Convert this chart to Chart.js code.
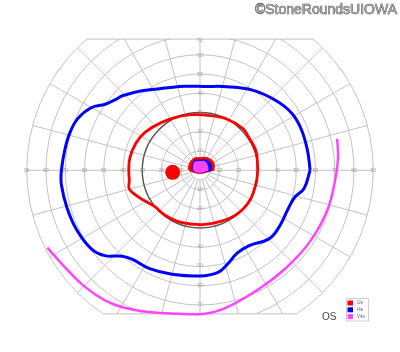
<!DOCTYPE html>
<html>
<head>
<meta charset="utf-8">
<script src="https://cdn.jsdelivr.net/npm/chart.js@4/dist/chart.umd.min.js"></script>
<style>
  body { margin: 0; background: #fff; }
  #wrap { width: 400px; height: 352px; position: relative; }
</style>
</head>
<body>
<div id="wrap"><canvas id="fieldChart" width="400" height="352"></canvas></div>
<script>
// isopters, polar: angle in degrees (0 = right, 90 = up), eccentricity in degrees
const blueAngles = [0, 10, 22, 32, 43, 57, 72, 87, 100, 111, 126, 136, 140, 145, 150, 157, 164, 171, 180, 186, 196, 206, 216, 222, 228, 233, 243, 255, 270, 280, 286, 294, 303, 315, 324, 336, 344, 350];
const blueEcc = [57.2, 56.8, 56.8, 56.2, 53.6, 49.9, 45.9, 43.8, 44.5, 46.1, 51.3, 56, 57.4, 60.1, 65.3, 69, 70.4, 71, 72, 72.4, 71.8, 71.2, 69.8, 66.6, 60.4, 58.3, 57.7, 56.2, 55.2, 54.1, 51.2, 47.4, 46.9, 50.7, 50.7, 50, 51.2, 54.9];

const redAngles = [0, 19, 34, 44, 62, 82, 95, 109, 129, 145, 157, 170, 180, 188, 195, 204, 219, 232, 250, 273, 292, 310, 328, 347];
const redEcc = [30, 30.8, 30.6, 31.2, 30.2, 29, 29.2, 30, 32, 34.7, 36.2, 37, 37, 37.1, 38, 34.7, 30.2, 29.7, 29, 28.4, 28.8, 29.9, 30.3, 29.9];

// V4e is open (not closed)
const magentaAngles = [207, 214, 225, 234, 241, 250, 262, 272, 281, 297, 312, 327, 342, 355, 365, 373];
const magentaEcc = [89, 86.9, 85.4, 84, 82, 78.8, 75.7, 75, 73, 69, 67.8, 68.2, 69.3, 70.3, 72, 73.1];

// small central islands
const blobAngles = [0, 30, 60, 90, 120, 150, 180, 210, 240, 270, 300, 330];
const redBlobEcc = [7.3, 8.2, 7.6, 6.6, 7, 6.4, 5.7, 2.6, 1.9, 1.6, 1.9, 2.6];
const blueBlobEcc = [6, 6.5, 6.2, 5.3, 5.8, 4.5, 3.9, 2, 1.4, 1.3, 1.4, 2];
const magentaBlobEcc = [4.2, 4.5, 5.2, 4.5, 5, 3.9, 3.3, 1.8, 1.2, 1, 1.2, 1.8];

const blindSpot = [{ x: -14.2, y: -1.1 }];

// grid
const ringValues = [5, 10, 20, 30, 40, 50, 60, 70, 80, 90];
const spokeStep = 15;
const sideTicks = ['10', '20', '30', '40', '50', '60', '70', '80', '90'];
const vertTicks = ['10', '20', '30', '40', '50', '60', '70'];
const fieldTop = 68.5;
const fieldBottom = -75;

const legendNames = ['I2e', 'I4e', 'V4e'];
const legendColors = ['#ff0000', '#0000ff', '#ff44ff'];

function polarPoints(angles, ecc, close) {
    const pts = angles.map((a, i) => ({
        x: ecc[i] * Math.cos(a * Math.PI / 180),
        y: ecc[i] * Math.sin(a * Math.PI / 180)
    }));
    if (close) pts.push(pts[0]);
    return pts;
}

// Polar grid, drawn through the x/y scales
const polarGrid = {
    id: 'polarGrid',
    beforeDatasetsDraw(chart) {
        const { ctx, scales: { x, y } } = chart;
        const cx = x.getPixelForValue(0), cy = y.getPixelForValue(0);
        const rad = v => x.getPixelForValue(v) - cx;
        const top = y.getPixelForValue(fieldTop), bottom = y.getPixelForValue(fieldBottom);
        const outer = rad(90);

        ctx.save();
        ctx.beginPath();
        ctx.rect(0, top, chart.width, bottom - top);
        ctx.clip();
        ctx.strokeStyle = '#c2c2c2';
        ctx.lineWidth = 1;
        ringValues.forEach(r => {
            if (r === 30) return;
            ctx.beginPath();
            ctx.arc(cx, cy, rad(r), 0, Math.PI * 2);
            ctx.stroke();
        });
        for (let a = 0; a < 360; a += spokeStep) {
            const c = Math.cos(a * Math.PI / 180), s = Math.sin(a * Math.PI / 180);
            ctx.beginPath();
            ctx.moveTo(cx + rad(5) * c, cy - rad(5) * s);
            ctx.lineTo(cx + outer * c, cy - outer * s);
            ctx.stroke();
        }
        ctx.strokeStyle = '#505050';
        ctx.lineWidth = 1.4;
        ctx.beginPath();
        ctx.arc(cx, cy, rad(30), 0, Math.PI * 2);
        ctx.stroke();
        ctx.restore();

        // flat edges top and bottom
        ctx.save();
        ctx.strokeStyle = '#c2c2c2';
        ctx.lineWidth = 1;
        [top, bottom].forEach(py => {
            const dy = py - cy;
            const half = Math.sqrt(outer * outer - dy * dy);
            ctx.beginPath();
            ctx.moveTo(cx - half, py);
            ctx.lineTo(cx + half, py);
            ctx.stroke();
        });

        // tick labels along the four axes
        ctx.font = '5px "Liberation Sans", Arial, sans-serif';
        ctx.fillStyle = '#9c9c9c';
        ctx.textAlign = 'center';
        ctx.textBaseline = 'middle';
        sideTicks.forEach(t => {
            const v = +t;
            ctx.fillText(t, x.getPixelForValue(v), cy);
            ctx.fillText(t, x.getPixelForValue(-v), cy);
        });
        vertTicks.forEach(t => {
            const v = +t;
            ctx.fillText(t, cx, Math.max(y.getPixelForValue(v), top + 2));
            ctx.fillText(t, cx, y.getPixelForValue(-v));
        });
        ctx.restore();
    },
    afterDraw(chart) {
        const { ctx } = chart;
        ctx.save();
        // watermark
        ctx.font = '14px "Liberation Sans", Arial, sans-serif';
        ctx.textAlign = 'right';
        ctx.textBaseline = 'alphabetic';
        ctx.lineWidth = 0.6;
        ctx.strokeStyle = '#333';
        ctx.fillStyle = '#a0a0a0';
        ctx.strokeText('©StoneRoundsUIOWA', 397, 14);
        ctx.fillText('©StoneRoundsUIOWA', 397, 14);

        // eye label
        ctx.font = '10px "Liberation Sans", Arial, sans-serif';
        ctx.fillStyle = '#444';
        ctx.textAlign = 'left';
        ctx.textBaseline = 'middle';
        ctx.fillText('OS', 322, 317);

        // legend box
        ctx.strokeStyle = '#cfcfcf';
        ctx.lineWidth = 1;
        ctx.strokeRect(346.5, 298.5, 22, 22.5);
        ctx.font = '4.5px "Liberation Sans", Arial, sans-serif';
        legendNames.forEach((n, i) => {
            const ly = 300.5 + i * 6.8;
            ctx.fillStyle = legendColors[i];
            ctx.fillRect(347.5, ly, 5.5, 5);
            ctx.fillStyle = '#666';
            ctx.fillText(n, 357, ly + 2.6);
        });
        ctx.restore();
    }
};

new Chart(document.getElementById('fieldChart'), {
    type: 'scatter',
    data: {
        datasets: [
            {
                label: 'V4e centre',
                data: polarPoints(blobAngles, magentaBlobEcc, true),
                showLine: true, tension: 0.4, fill: 'shape',
                borderColor: '#ff44ff', backgroundColor: '#ff44ff', borderWidth: 1
            },
            {
                label: 'I4e centre',
                data: polarPoints(blobAngles, blueBlobEcc, true),
                showLine: true, tension: 0.4, fill: 'shape',
                borderColor: '#0000ff', backgroundColor: '#0000ff', borderWidth: 1
            },
            {
                label: 'I2e centre',
                data: polarPoints(blobAngles, redBlobEcc, true),
                showLine: true, tension: 0.4, fill: 'shape',
                borderColor: '#ff0000', backgroundColor: '#ff0000', borderWidth: 1
            },
            {
                label: 'blind spot',
                data: blindSpot,
                showLine: false,
                pointRadius: 7.5, pointBackgroundColor: '#ff0000', pointBorderWidth: 0
            },
            {
                label: 'I2e',
                data: polarPoints(redAngles, redEcc, true),
                showLine: true, tension: 0.4, borderColor: '#ff0000', borderWidth: 2.8
            },
            {
                label: 'I4e',
                data: polarPoints(blueAngles, blueEcc, true),
                showLine: true, tension: 0.4, borderColor: '#0000ff', borderWidth: 3
            },
            {
                label: 'V4e',
                data: polarPoints(magentaAngles, magentaEcc, false),
                showLine: true, tension: 0.4, borderColor: '#ff44ff', borderWidth: 2.5
            }
        ]
    },
    options: {
        responsive: false,
        animation: false,
        layout: { padding: 0 },
        elements: { point: { radius: 0, hoverRadius: 0 } },
        scales: {
            x: { type: 'linear', min: -100, max: 100, display: false },
            y: { type: 'linear', min: -91, max: 85, display: false }
        },
        plugins: {
            legend: { display: false },
            tooltip: { enabled: false }
        }
    },
    plugins: [polarGrid]
});
</script>
</body>
</html>
